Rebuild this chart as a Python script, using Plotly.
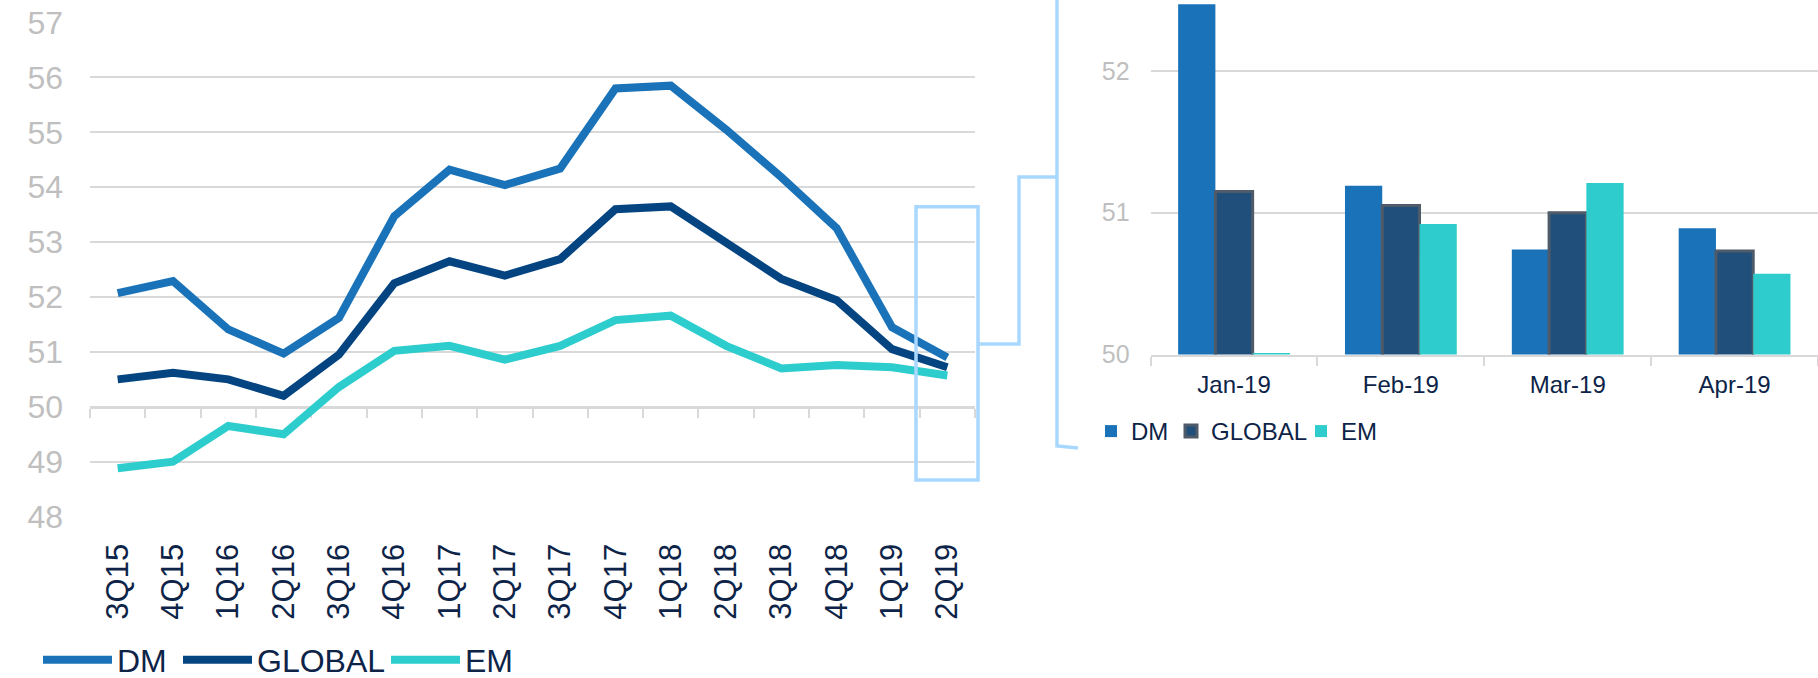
import plotly.graph_objects as go

quarters = ["3Q15", "4Q15", "1Q16", "2Q16", "3Q16", "4Q16", "1Q17", "2Q17",
            "3Q17", "4Q17", "1Q18", "2Q18", "3Q18", "4Q18", "1Q19", "2Q19"]
dm_q = [52.07, 52.29, 51.41, 50.97, 51.62, 53.47, 54.32, 54.04,
        54.34, 55.80, 55.85, 55.05, 54.18, 53.25, 51.45, 50.90]
global_q = [50.50, 50.62, 50.50, 50.20, 50.95, 52.25, 52.65, 52.39,
            52.69, 53.60, 53.65, 53.00, 52.33, 51.94, 51.05, 50.72]
em_q = [48.88, 49.00, 49.65, 49.50, 50.36, 51.02, 51.11, 50.86,
        51.11, 51.58, 51.66, 51.11, 50.70, 50.76, 50.72, 50.57]

months = ["Jan-19", "Feb-19", "Mar-19", "Apr-19"]
dm_m = [52.47, 51.19, 50.74, 50.89]
global_m = [51.15, 51.05, 51.00, 50.73]
em_m = [50.01, 50.92, 51.21, 50.57]

series_names = ["DM", "GLOBAL", "EM"]

FONT = "Liberation Sans, Arial, sans-serif"
C_DM_LINE = "#1a73b9"
C_GL_LINE = "#044481"
C_EM_LINE = "#2ecdcd"
C_DM_BAR = "#1a72b8"
C_GL_BAR = "#214f7b"
C_EM_BAR = "#2ecccc"
GL_BORDER = "#4f5b69"
GRID = "#d9d9d9"
LABEL_GRAY = "#bfbfbf"
NAVY_TXT = "#0d2448"
ZOOM = "#a8d8ff"

W, H = 1818, 678


def px(x):
    return x / W


def py(y):
    return 1 - y / H


fig = go.Figure()

line_legends = ["legend", "legend2", "legend3"]
for name, vals, col, lg in zip(series_names, [dm_q, global_q, em_q],
                               [C_DM_LINE, C_GL_LINE, C_EM_LINE], line_legends):
    fig.add_trace(go.Scatter(x=quarters, y=vals, name=name, mode="lines",
                             line=dict(color=col, width=8), xaxis="x", yaxis="y",
                             legend=lg))

# invisible helper trace so the category tick-mark axis (crossing at 50) is drawn
fig.add_trace(go.Scatter(x=quarters, y=[None] * len(quarters), xaxis="x3", yaxis="y",
                         showlegend=False, hoverinfo="skip", mode="lines"))

bar_legends = ["legend4", "legend5", "legend6"]
for name, vals, col, lc, lw, lg in zip(series_names, [dm_m, global_m, em_m],
                                       [C_DM_BAR, C_GL_BAR, C_EM_BAR],
                                       [C_DM_BAR, GL_BORDER, C_EM_BAR], [0, 3, 0], bar_legends):
    fig.add_trace(go.Bar(x=months, y=vals, name=name,
                         marker=dict(color=col, line=dict(color=lc, width=lw)),
                         xaxis="x2", yaxis="y2", legend=lg))

n = len(quarters)


def line_legend(xpix):
    return dict(orientation="h", x=px(xpix), y=py(660), xanchor="left", yanchor="middle",
                font=dict(size=32, color=NAVY_TXT), bgcolor="rgba(0,0,0,0)",
                itemwidth=69, tracegroupgap=0)


def bar_legend(xpix):
    return dict(orientation="h", x=px(xpix), y=py(431.5), xanchor="left", yanchor="middle",
                font=dict(size=24, color=NAVY_TXT), bgcolor="rgba(0,0,0,0)",
                itemwidth=30, tracegroupgap=0)


fig.update_layout(
    width=W, height=H,
    margin=dict(l=0, r=0, t=0, b=0, autoexpand=False),
    paper_bgcolor="white", plot_bgcolor="white",
    font=dict(family=FONT),
    barmode="group", bargap=0.33, bargroupgap=0,
    xaxis=dict(domain=[px(90), px(975)], anchor="y", type="category",
               showgrid=False, showline=False, ticks="", tickangle=-90,
               tickfont=dict(size=31, color=NAVY_TXT), ticklabelstandoff=20,
               range=[-0.5, n - 0.5], automargin=False),
    yaxis=dict(domain=[py(516.6), py(22.5)], anchor="x", range=[48, 57],
               dtick=1, showgrid=True, gridcolor=GRID, gridwidth=2, zeroline=False,
               showline=False, tickfont=dict(size=32, color=LABEL_GRAY), ticklabelstandoff=26,
               automargin=False),
    xaxis3=dict(overlaying="x", anchor="free", position=py(407.7), type="category",
                range=[-0.5, n - 0.5], tickson="boundaries", showticklabels=False,
                ticks="outside", ticklen=9, tickwidth=2, tickcolor=GRID,
                showline=True, linecolor=GRID, linewidth=2, showgrid=False,
                zeroline=False, layer="below traces", automargin=False),
    xaxis2=dict(domain=[px(1150.6), 1.0], anchor="y2", type="category",
                showgrid=False, showline=True, linecolor=GRID, linewidth=2,
                ticks="outside", tickson="boundaries", ticklen=9, tickwidth=2, tickcolor=GRID,
                tickfont=dict(size=24, color=NAVY_TXT), ticklabelstandoff=8, automargin=False),
    yaxis2=dict(domain=[py(354.5), 1.0], anchor="x2", range=[50, 52.5],
                tickvals=[50, 51, 52], showgrid=True, gridcolor=GRID, gridwidth=2,
                zeroline=False, showline=False,
                tickfont=dict(size=25, color=LABEL_GRAY), ticklabelstandoff=20, automargin=False),
    legend=line_legend(38),
    legend2=line_legend(178),
    legend3=line_legend(386),
    legend4=bar_legend(1091),
    legend5=bar_legend(1171),
    legend6=bar_legend(1301),
    showlegend=True,
)

fig.add_shape(type="rect", xref="paper", yref="paper",
              x0=px(916), x1=px(978), y0=py(480), y1=py(206.7),
              line=dict(color=ZOOM, width=3.5), fillcolor="rgba(0,0,0,0)")
fig.add_shape(type="path", xref="paper", yref="paper",
              path=f"M {px(978)} {py(344)} L {px(1019)} {py(344)} L {px(1019)} {py(177)} L {px(1057)} {py(177)}",
              line=dict(color=ZOOM, width=3.5))
fig.add_shape(type="path", xref="paper", yref="paper",
              path=f"M {px(1057)} {py(-2)} L {px(1057)} {py(446)} L {px(1078)} {py(448)}",
              line=dict(color=ZOOM, width=3.5))

fig.write_html("out.html", config={"displayModeBar": False},
               post_script="document.body.style.margin='0';document.body.style.overflow='hidden';")
